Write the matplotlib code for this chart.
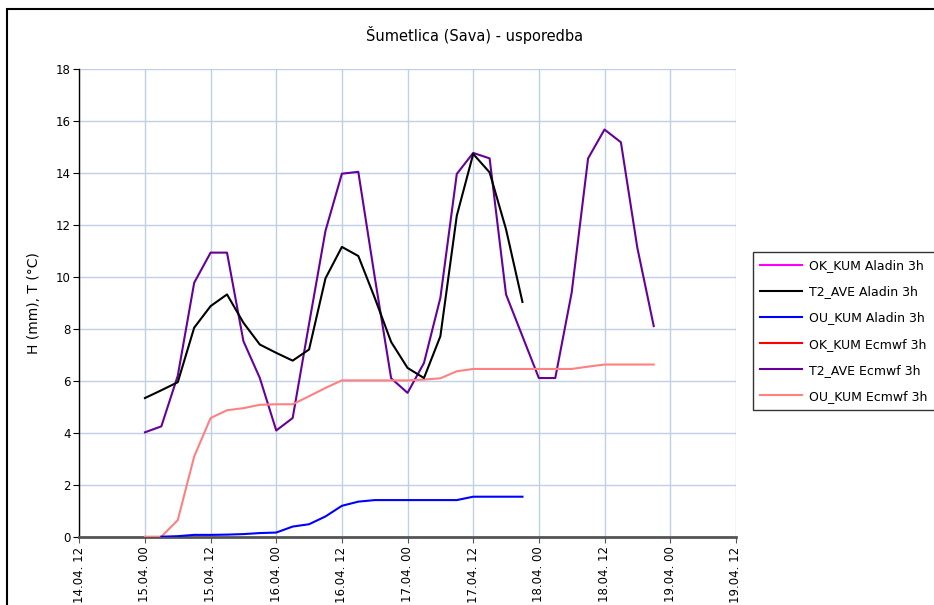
import matplotlib
matplotlib.use("Agg")
import matplotlib.pyplot as plt
import matplotlib.dates as mdates
from matplotlib.patches import Rectangle
import pandas as pd

plt.rcParams['font.family'] = ['DejaVu Sans']

title = "Šumetlica (Sava) - usporedba"
ylabel = "H (mm), T (°C)"

start = "2000-04-15 00:00"
# T2_AVE Ecmwf 3h (every 3 h from 15.04. 00)
t2_ecmwf = [4.02, 4.25, 6.2, 9.78, 10.94, 10.94, 7.53, 6.11, 4.09, 4.57, 8.2, 11.78,
            13.98, 14.05, 10.0, 6.1, 5.54, 6.69, 9.2, 13.97, 14.78, 14.57, 9.33, 7.72,
            6.11, 6.11, 9.4, 14.57, 15.68, 15.19, 11.13, 8.11]
# OU_KUM Ecmwf 3h
ou_ecmwf = [0, 0, 0.64, 3.09, 4.57, 4.87, 4.95, 5.08, 5.1, 5.1, 5.41, 5.73,
            6.02, 6.02, 6.02, 6.02, 6.02, 6.05, 6.1, 6.37, 6.46, 6.46, 6.46, 6.46,
            6.46, 6.46, 6.46, 6.55, 6.63, 6.63, 6.63, 6.63]
# T2_AVE Aladin 3h (from 15.04. 00)
t2_aladin = [5.34, 5.64, 5.95, 8.05, 8.88, 9.33, 8.24, 7.4, 7.08, 6.78, 7.21, 9.95,
             11.16, 10.81, 9.2, 7.5, 6.5, 6.11, 7.72, 12.36, 14.74, 14.03, 11.84, 9.04]
# OU_KUM Aladin 3h (from 15.04. 03)
ou_aladin = [0, 0.02, 0.07, 0.07, 0.08, 0.1, 0.14, 0.16, 0.39, 0.48, 0.78, 1.19,
             1.35, 1.41, 1.41, 1.41, 1.41, 1.41, 1.41, 1.54, 1.54, 1.54, 1.54]
ok_aladin = []
ok_ecmwf = []

times_ecmwf = pd.date_range(start, periods=len(t2_ecmwf), freq="3h")
times_t2_aladin = pd.date_range(start, periods=len(t2_aladin), freq="3h")
times_ou_aladin = pd.date_range("2000-04-15 03:00", periods=len(ou_aladin), freq="3h")

W, H = 934, 605
fig = plt.figure(figsize=(W / 100, H / 100), dpi=100)
ax = fig.add_axes([79.3 / W, 1 - 536.7 / H, (735.8 - 79.3) / W, (536.7 - 69.3) / H])

lw = 1.5
ax.plot(ok_aladin, ok_aladin, color="#FF00FF", lw=lw, label="OK_KUM Aladin 3h")
ax.plot(times_t2_aladin, t2_aladin, color="black", lw=lw, label="T2_AVE Aladin 3h", zorder=4)
ax.plot(times_ou_aladin, ou_aladin, color="#0000FF", lw=lw, label="OU_KUM Aladin 3h", zorder=4)
ax.plot(ok_ecmwf, ok_ecmwf, color="#FF0000", lw=lw, label="OK_KUM Ecmwf 3h")
ax.plot(times_ecmwf, t2_ecmwf, color="#660099", lw=lw, label="T2_AVE Ecmwf 3h", zorder=3)
ax.plot(times_ecmwf, ou_ecmwf, color="#FF8080", lw=lw, label="OU_KUM Ecmwf 3h", zorder=3)

ax.set_ylim(0, 18)
ax.set_yticks(range(0, 19, 2))
ax.set_xlim(pd.Timestamp("2000-04-14 12:00"), pd.Timestamp("2000-04-19 12:00"))
ax.xaxis.set_major_locator(mdates.HourLocator(byhour=[0, 12]))
ax.xaxis.set_major_formatter(mdates.DateFormatter("%d.%m. %H"))
for lab in ax.get_xticklabels():
    lab.set_rotation(90)

ax.grid(True, color="#BFCFE4", lw=1)
ax.set_axisbelow(True)
for s in ["top", "right"]:
    ax.spines[s].set_visible(False)
ax.spines["left"].set_color("black")
ax.spines["left"].set_linewidth(1)
ax.spines["bottom"].set_color("#555555")
ax.spines["bottom"].set_linewidth(2)
ax.tick_params(axis="y", direction="out", length=4, labelsize=8.5, color="black", pad=2)
ax.tick_params(axis="x", direction="out", length=4, labelsize=8.5, color="#555555", pad=3)
ax.set_ylabel(ylabel, fontsize=10, labelpad=11)

fig.text(0.508, 1 - 35 / H, title, ha="center", va="center", fontsize=10.5)

leg = ax.legend(loc="upper left", bbox_to_anchor=(752.7 / W, 1 - 251.7 / H),
                bbox_transform=fig.transFigure, fontsize=9, frameon=True,
                fancybox=False, edgecolor="black", handlelength=3.35,
                handletextpad=0.56, labelspacing=1.05, borderpad=0.6, borderaxespad=0)
leg.get_frame().set_linewidth(1)

fig.patches.append(Rectangle((7 / W, -0.1), 1.2, 1 - 9.5 / H + 0.1,
                             transform=fig.transFigure, fill=False,
                             edgecolor="black", lw=1.5))

fig.savefig("out.png", dpi=100)
